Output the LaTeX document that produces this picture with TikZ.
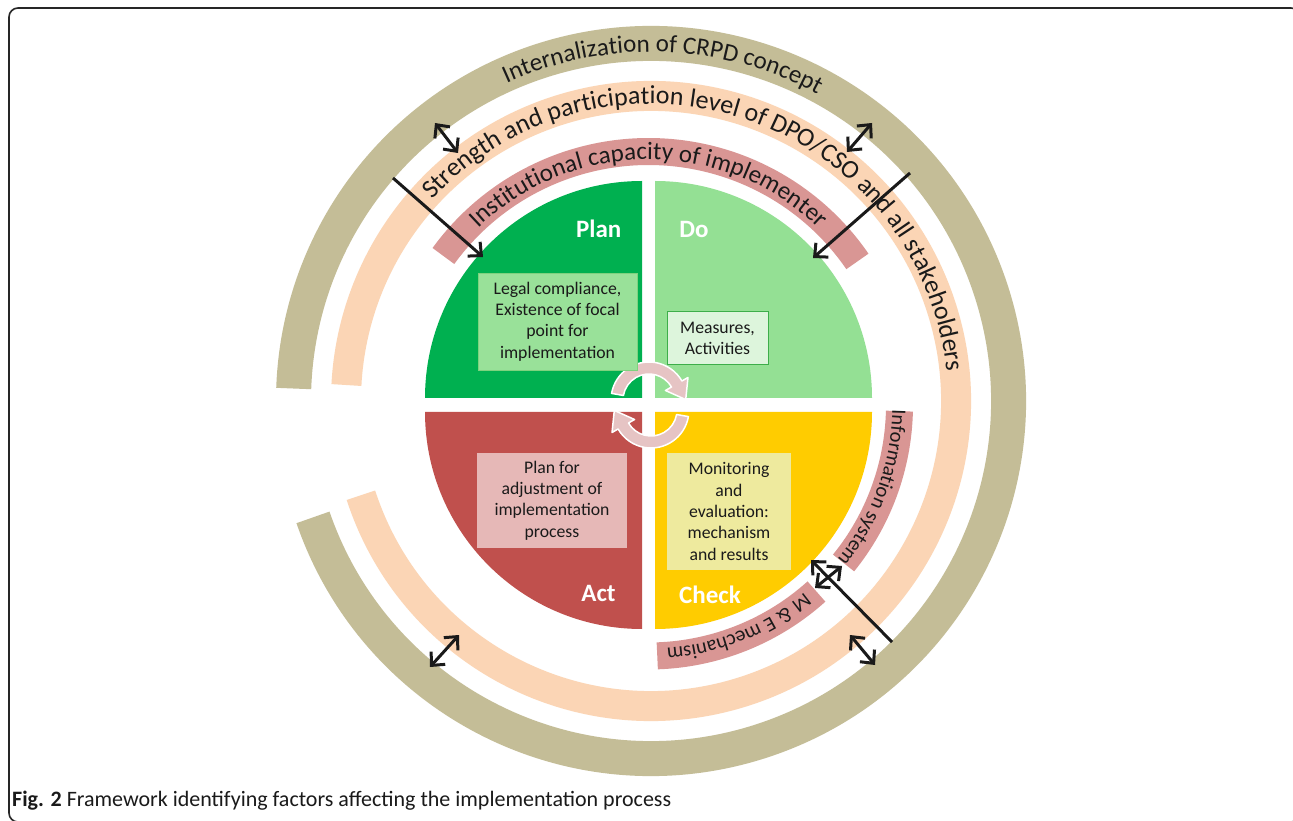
\documentclass[tikz,border=0pt]{standalone}
\usepackage{fontspec}
\setmainfont{Carlito}
\usetikzlibrary{arrows.meta,decorations.text,calc}
\definecolor{khaki}{HTML}{C4BD97}
\definecolor{peach}{HTML}{FBD5B5}
\definecolor{rose}{HTML}{D99694}
\definecolor{plangreen}{HTML}{00B050}
\definecolor{dogreen}{HTML}{94E094}
\definecolor{actred}{HTML}{C0504D}
\definecolor{checkgold}{HTML}{FFCC00}
\definecolor{planbox}{HTML}{99E199}
\definecolor{planboxline}{HTML}{7ED27E}
\definecolor{dobox}{HTML}{DDF5DC}
\definecolor{doboxline}{HTML}{3DAE4A}
\definecolor{actbox}{HTML}{E6B8B7}
\definecolor{checkbox}{HTML}{EEEA9E}
\definecolor{cycfill}{HTML}{E6C4C4}
\definecolor{ink}{HTML}{1A1A1A}
\newcommand{\ringfont}{\fontsize{25}{30}\selectfont}
\newcommand{\peachfont}{\fontsize{26}{31}\selectfont}
\newcommand{\sidefont}{\fontsize{20.5}{25}\selectfont}
\begin{document}
\begin{tikzpicture}[x=1pt,y=1pt,
  arrowline/.style={line width=3pt, draw=ink},
  onehead/.style={arrowline, -{Straight Barb[length=10pt,width=19pt]}},
  twohead/.style={arrowline, {Straight Barb[length=10pt,width=19pt]}-{Straight Barb[length=10pt,width=19pt]}},
  boxtext/.style={align=center, inner sep=0pt, text=ink, font=\fontsize{17.7}{21.3}\selectfont},
  phase/.style={text=white, font=\fontsize{25}{30}\selectfont\bfseries, inner sep=0pt},
  cyc/.style={fill=cycfill, draw=white, line width=1.5pt, line join=round},
  ringtext/.style={decorate, decoration={text along path, text align=center, text color=ink, text={#1}}}
]
\useasboundingbox (0,0) rectangle (1293,820);
\fill[white] (0,0) rectangle (1293,820);
\draw[line width=1.6pt, rounded corners=9pt, black!85] (9,-2) rectangle (1300,812);

% centres
\coordinate (R) at (651,419);
\coordinate (C) at (648.5,415);

% quadrants
\fill[plangreen] (642,422) -- ++(-217,0) arc[start angle=180,end angle=90,radius=217] -- cycle;
\fill[dogreen] (655,422) -- ++(0,217) arc[start angle=90,end angle=0,radius=217] -- cycle;
\fill[actred] (642,408) -- ++(0,-217) arc[start angle=270,end angle=180,radius=217] -- cycle;
\fill[checkgold] (655,408) -- ++(217,0) arc[start angle=0,end angle=-90,radius=217] -- cycle;

% rings
\draw[khaki, line width=35pt] ($(R)+(-161:357.5)$) arc[start angle=-161,end angle=178,radius=357.5];
\draw[peach, line width=30pt] ($(R)+(-162:305)$) arc[start angle=-162,end angle=177,radius=305];
\draw[rose, line width=27pt] ($(C)+(34.5:253.5)$) arc[start angle=34.5,end angle=144,radius=253.5];
\draw[rose, line width=27pt] ($(C)+(-39:251)$) arc[start angle=-39,end angle=-1.4,radius=251];
\draw[rose, line width=27pt] ($(C)+(-88:251)$) arc[start angle=-88,end angle=-48,radius=251];

% ring texts
\path[ringtext={|\ringfont|Internalization of CRPD concept}] ($(R)+(150:349)$) arc[start angle=150,end angle=26,radius=349];
\path[ringtext={|\peachfont|Strength and participation level of DPO/CSO and all stakeholders}] ($(R)+(152:297)$) arc[start angle=152,end angle=-9,radius=297];
\path[ringtext={|\ringfont|Institutional capacity of implementer}] ($(C)+(145:245.5)$) arc[start angle=145,end angle=35,radius=245.5];
\path[ringtext={|\sidefont|Information system}] ($(C)+(10:244)$) arc[start angle=10,end angle=-50.4,radius=244];
\path[ringtext={|\sidefont|M {\&} E mechanism}] ($(C)+(-38:244)$) arc[start angle=-38,end angle=-98,radius=244];

% cycle arrows
\coordinate (T) at (649,420);
\coordinate (B) at (651,410);
\filldraw[cyc] ($(T)+(170:38)$) arc[start angle=170,end angle=30,radius=38]
  -- ($(T)+(30:45)$) -- ($(T)+(30:32)+(-60:18)$) -- ($(T)+(30:19)$) -- ($(T)+(30:26)$)
  arc[start angle=30,end angle=170,radius=26] -- cycle;
\filldraw[cyc] ($(B)+(-10:38)$) arc[start angle=-10,end angle=-150,radius=38]
  -- ($(B)+(-150:45)$) -- ($(B)+(-150:32)+(120:18)$) -- ($(B)+(-150:19)$) -- ($(B)+(-150:26)$)
  arc[start angle=-150,end angle=-10,radius=26] -- cycle;

% boxes
\node[boxtext, fill=planbox, draw=planboxline, line width=0.8pt, minimum width=159pt, minimum height=97pt] (planbox) at (557.5,498.5) {Legal compliance,\\Existence of focal\\point for\\implementation};
\node[boxtext, fill=dobox, draw=doboxline, line width=1pt, minimum width=101pt, minimum height=53pt] (dobox) at (717.5,481.5) {Measures,\\Activities};
\node[boxtext, fill=actbox, minimum width=150pt, minimum height=95pt] (actbox) at (552,319.5) {Plan for\\adjustment of\\implementation\\process};
\node[boxtext, fill=checkbox, minimum width=124pt, minimum height=117pt] (checkbox) at (729,308.5) {Monitoring\\and\\evaluation:\\mechanism\\and results};

% phase labels
\node[phase] (plan) at (598.7,591) {Plan};
\node[phase] (do) at (694,591) {Do};
\node[phase] (act) at (598.5,227) {Act};
\node[phase] (check) at (710,225) {Check};

% arrows
\coordinate (a1s) at (435,697); \coordinate (a1e) at (458,667);
\coordinate (a2s) at (872,697); \coordinate (a2e) at (847,668);
\coordinate (a3s) at (393,642); \coordinate (a3e) at (483,563);
\coordinate (a4s) at (910,647); \coordinate (a4e) at (813,562);
\coordinate (a5s) at (430,153); \coordinate (a5e) at (459,185);
\coordinate (a6s) at (850,185); \coordinate (a6e) at (875,155);
\coordinate (a7s) at (892,178); \coordinate (a7e) at (811,260);
\coordinate (a8s) at (815,232); \coordinate (a8e) at (842,254);
\draw[twohead] (a1s) -- (a1e);
\draw[twohead] (a2s) -- (a2e);
\draw[onehead] (a3s) -- (a3e);
\draw[onehead] (a4s) -- (a4e);
\draw[twohead] (a5s) -- (a5e);
\draw[twohead] (a6s) -- (a6e);
\draw[onehead] (a7s) -- (a7e);
\draw[twohead] (a8s) -- (a8e);

% caption
\node[anchor=base west, inner sep=0pt, text=ink, font=\fontsize{22}{26}\selectfont] (caption) at (12,14) {\textbf{Fig. 2} Framework identifying factors affecting the implementation process};
\end{tikzpicture}
\end{document}
